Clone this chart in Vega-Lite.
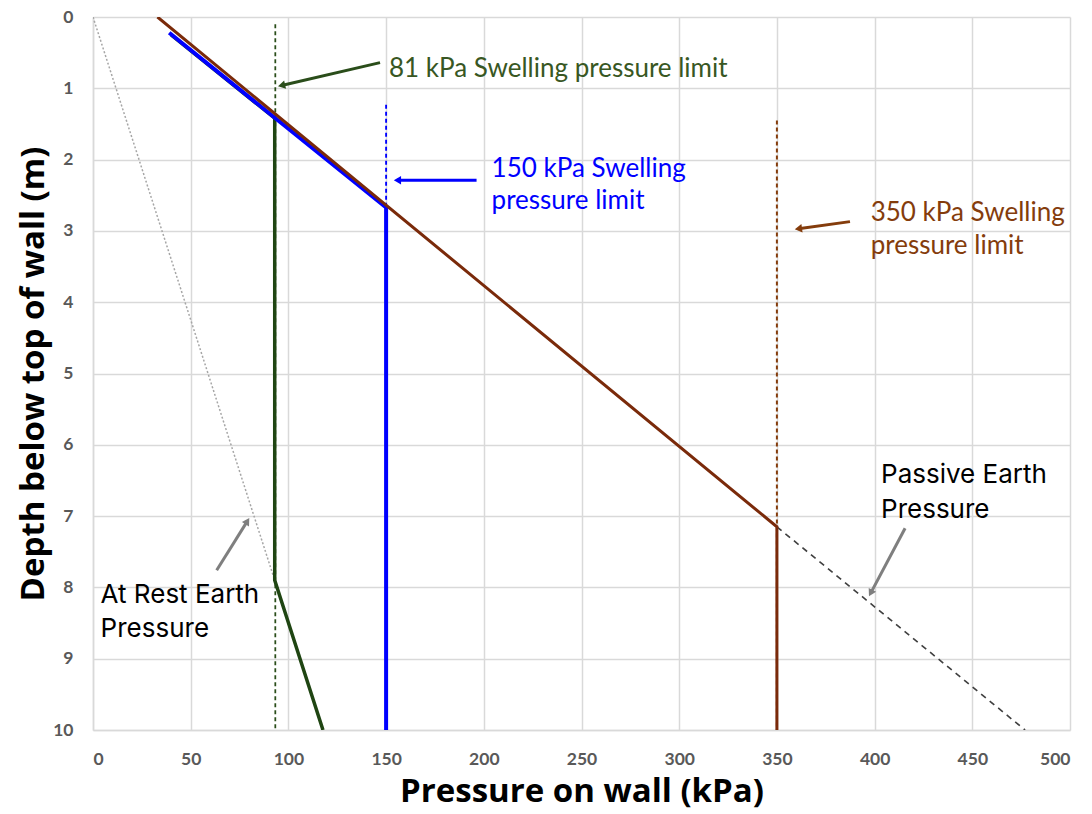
{
  "$schema": "https://vega.github.io/schema/vega-lite/v6.json",
  "width": 977,
  "height": 713,
  "autosize": {"type": "none"},
  "padding": {"left": 93, "top": 17, "right": 22, "bottom": 84},
  "background": "white",
  "config": {
    "view": {"stroke": null},
    "font": "Lato"
  },
  "resolve": {"scale": {"color": "independent", "strokeDash": "independent", "strokeWidth": "independent"}},
  "datasets": {
    "refs": [
      {"series": "At rest earth pressure", "pressure": 0, "depth": 0},
      {"series": "At rest earth pressure", "pressure": 93, "depth": 7.9},
      {"series": "Passive earth pressure", "pressure": 350, "depth": 7.15},
      {"series": "Passive earth pressure", "pressure": 477, "depth": 10},
      {"series": "81 kPa limit", "pressure": 93.3, "depth": 0.1},
      {"series": "81 kPa limit", "pressure": 93.3, "depth": 10},
      {"series": "150 kPa limit", "pressure": 150, "depth": 1.23},
      {"series": "150 kPa limit", "pressure": 150, "depth": 10},
      {"series": "350 kPa limit", "pressure": 350, "depth": 1.45},
      {"series": "350 kPa limit", "pressure": 350, "depth": 10}
    ],
    "profiles": [
      {"series": "81 kPa", "order": 1, "pressure": 40, "depth": 0.25},
      {"series": "81 kPa", "order": 2, "pressure": 93, "depth": 1.42},
      {"series": "81 kPa", "order": 3, "pressure": 93, "depth": 7.9},
      {"series": "81 kPa", "order": 4, "pressure": 117.7, "depth": 10},
      {"series": "150 kPa", "order": 1, "pressure": 39, "depth": 0.22},
      {"series": "150 kPa", "order": 2, "pressure": 150, "depth": 2.67},
      {"series": "150 kPa", "order": 3, "pressure": 150, "depth": 10},
      {"series": "350 kPa", "order": 1, "pressure": 33, "depth": 0},
      {"series": "350 kPa", "order": 2, "pressure": 350, "depth": 7.15},
      {"series": "350 kPa", "order": 3, "pressure": 350, "depth": 10}
    ],
    "arrows": [
      {"id": "g", "x0": 146.9, "y0": 0.64, "x1": 96.5, "y1": 0.96},
      {"id": "b", "x0": 196.3, "y0": 2.29, "x1": 155.8, "y1": 2.29},
      {"id": "r", "x0": 387.4, "y0": 2.87, "x1": 361.0, "y1": 2.97},
      {"id": "k1", "x0": 63.3, "y0": 7.76, "x1": 79.0, "y1": 7.07},
      {"id": "k2", "x0": 415.6, "y0": 7.17, "x1": 398.0, "y1": 8.08}
    ],
    "labels": [
      {"id": "g", "x": 151.5, "y": 0.846, "text": "81 kPa Swelling pressure limit"},
      {"id": "b", "x": 204.0, "y": 2.24, "text": "150 kPa Swelling"},
      {"id": "b", "x": 204.0, "y": 2.69, "text": "pressure limit"},
      {"id": "r", "x": 398.0, "y": 2.857, "text": "350 kPa Swelling"},
      {"id": "r", "x": 398.0, "y": 3.32, "text": "pressure limit"}
    ],
    "notes": [
      {"x": 3.9, "y": 8.22, "text": "At Rest Earth"},
      {"x": 3.9, "y": 8.69, "text": "Pressure"},
      {"x": 403.3, "y": 6.54, "text": "Passive Earth"},
      {"x": 403.3, "y": 7.03, "text": "Pressure"}
    ]
  },
  "layer": [
    {
      "data": {"name": "refs"},
      "mark": {"type": "line", "clip": true},
      "encoding": {
        "x": {
          "field": "pressure", "type": "quantitative",
          "scale": {"domain": [0, 500], "nice": false, "zero": false},
          "axis": {
            "title": "Pressure on wall (kPa)",
            "values": [0, 50, 100, 150, 200, 250, 300, 350, 400, 450, 500],
            "format": "d",
            "grid": true, "gridColor": "#d9d9d9", "gridWidth": 1.5,
            "domain": true, "domainColor": "#d9d9d9", "domainWidth": 1.5,
            "ticks": false,
            "labelFont": "Lato", "labelFontSize": 17.5, "labelFontWeight": "bold", "labelColor": "#595959",
            "labelPadding": 20,
            "titleFont": "Open Sans", "titleFontSize": 33, "titleFontWeight": "bold", "titleColor": "#000000",
            "titlePadding": 8
          }
        },
        "y": {
          "field": "depth", "type": "quantitative",
          "scale": {"domain": [0, 10], "reverse": true, "nice": false, "zero": false},
          "axis": {
            "title": "Depth below top of wall (m)",
            "values": [0, 1, 2, 3, 4, 5, 6, 7, 8, 9, 10],
            "format": "d",
            "grid": true, "gridColor": "#d9d9d9", "gridWidth": 1.5,
            "domain": true, "domainColor": "#d9d9d9", "domainWidth": 1.5,
            "ticks": false,
            "labelFont": "Lato", "labelFontSize": 17.5, "labelFontWeight": "bold", "labelColor": "#595959",
            "labelPadding": 20,
            "titleFont": "Open Sans", "titleFontSize": 33, "titleFontWeight": "bold", "titleColor": "#000000",
            "titlePadding": 2
          }
        },
        "color": {
          "field": "series", "type": "nominal", "legend": null,
          "scale": {
            "domain": ["At rest earth pressure", "Passive earth pressure", "81 kPa limit", "150 kPa limit", "350 kPa limit"],
            "range": ["#a6a6a6", "#404040", "#2a4d1a", "#0000ff", "#843c0c"]
          }
        },
        "strokeDash": {
          "field": "series", "type": "nominal", "legend": null,
          "scale": {
            "domain": ["At rest earth pressure", "Passive earth pressure", "81 kPa limit", "150 kPa limit", "350 kPa limit"],
            "range": [[2, 2], [6, 5], [4, 3], [4, 3], [4, 3]]
          }
        },
        "strokeWidth": {
          "field": "series", "type": "nominal", "legend": null,
          "scale": {
            "domain": ["At rest earth pressure", "Passive earth pressure", "81 kPa limit", "150 kPa limit", "350 kPa limit"],
            "range": [1.5, 2, 2, 2, 2]
          }
        }
      }
    },
    {
      "data": {"name": "profiles"},
      "transform": [{"filter": "datum.series === '81 kPa'"}],
      "mark": {"type": "line", "color": "#1f4512", "strokeWidth": 3.5, "clip": true},
      "encoding": {
        "x": {"field": "pressure", "type": "quantitative"},
        "y": {"field": "depth", "type": "quantitative"},
        "order": {"field": "order"}
      }
    },
    {
      "data": {"name": "profiles"},
      "transform": [{"filter": "datum.series === '150 kPa'"}],
      "mark": {"type": "line", "color": "#0000ff", "strokeWidth": 4, "clip": true},
      "encoding": {
        "x": {"field": "pressure", "type": "quantitative"},
        "y": {"field": "depth", "type": "quantitative"},
        "order": {"field": "order"}
      }
    },
    {
      "data": {"name": "profiles"},
      "transform": [{"filter": "datum.series === '350 kPa'"}],
      "mark": {"type": "line", "color": "#7a2a0a", "strokeWidth": 3, "clip": true},
      "encoding": {
        "x": {"field": "pressure", "type": "quantitative"},
        "y": {"field": "depth", "type": "quantitative"},
        "order": {"field": "order"}
      }
    },
    {
      "data": {"name": "arrows"},
      "mark": {"type": "rule", "strokeWidth": 3},
      "encoding": {
        "x": {"field": "x0", "type": "quantitative"},
        "y": {"field": "y0", "type": "quantitative"},
        "x2": {"field": "x1"},
        "y2": {"field": "y1"},
        "color": {
          "field": "id", "type": "nominal", "legend": null,
          "scale": {"domain": ["g", "b", "r", "k1", "k2"], "range": ["#2a4d1a", "#0000ff", "#843c0c", "#7f7f7f", "#7f7f7f"]}
        }
      }
    },
    {
      "data": {"name": "arrows"},
      "transform": [{"filter": "datum.id === 'g'"}],
      "mark": {"type": "point", "shape": "triangle-up", "filled": true, "size": 70, "angle": 257, "color": "#2a4d1a", "opacity": 1},
      "encoding": {"x": {"field": "x1", "type": "quantitative"}, "y": {"field": "y1", "type": "quantitative"}}
    },
    {
      "data": {"name": "arrows"},
      "transform": [{"filter": "datum.id === 'b'"}],
      "mark": {"type": "point", "shape": "triangle-up", "filled": true, "size": 70, "angle": 270, "color": "#0000ff", "opacity": 1},
      "encoding": {"x": {"field": "x1", "type": "quantitative"}, "y": {"field": "y1", "type": "quantitative"}}
    },
    {
      "data": {"name": "arrows"},
      "transform": [{"filter": "datum.id === 'r'"}],
      "mark": {"type": "point", "shape": "triangle-up", "filled": true, "size": 70, "angle": 262, "color": "#843c0c", "opacity": 1},
      "encoding": {"x": {"field": "x1", "type": "quantitative"}, "y": {"field": "y1", "type": "quantitative"}}
    },
    {
      "data": {"name": "arrows"},
      "transform": [{"filter": "datum.id === 'k1'"}],
      "mark": {"type": "point", "shape": "triangle-up", "filled": true, "size": 70, "angle": 32, "color": "#7f7f7f", "opacity": 1},
      "encoding": {"x": {"field": "x1", "type": "quantitative"}, "y": {"field": "y1", "type": "quantitative"}}
    },
    {
      "data": {"name": "arrows"},
      "transform": [{"filter": "datum.id === 'k2'"}],
      "mark": {"type": "point", "shape": "triangle-up", "filled": true, "size": 70, "angle": 208, "color": "#7f7f7f", "opacity": 1},
      "encoding": {"x": {"field": "x1", "type": "quantitative"}, "y": {"field": "y1", "type": "quantitative"}}
    },
    {
      "data": {"name": "labels"},
      "mark": {"type": "text", "align": "left", "baseline": "alphabetic", "font": "Lato", "fontSize": 26},
      "encoding": {
        "x": {"field": "x", "type": "quantitative"},
        "y": {"field": "y", "type": "quantitative"},
        "text": {"field": "text"},
        "color": {
          "field": "id", "type": "nominal", "legend": null,
          "scale": {"domain": ["g", "b", "r"], "range": ["#385723", "#0000ff", "#843c0c"]}
        }
      }
    },
    {
      "data": {"name": "notes"},
      "mark": {"type": "text", "align": "left", "baseline": "alphabetic", "font": "Inter", "fontSize": 26, "color": "#000000"},
      "encoding": {
        "x": {"field": "x", "type": "quantitative"},
        "y": {"field": "y", "type": "quantitative"},
        "text": {"field": "text"}
      }
    }
  ]
}
